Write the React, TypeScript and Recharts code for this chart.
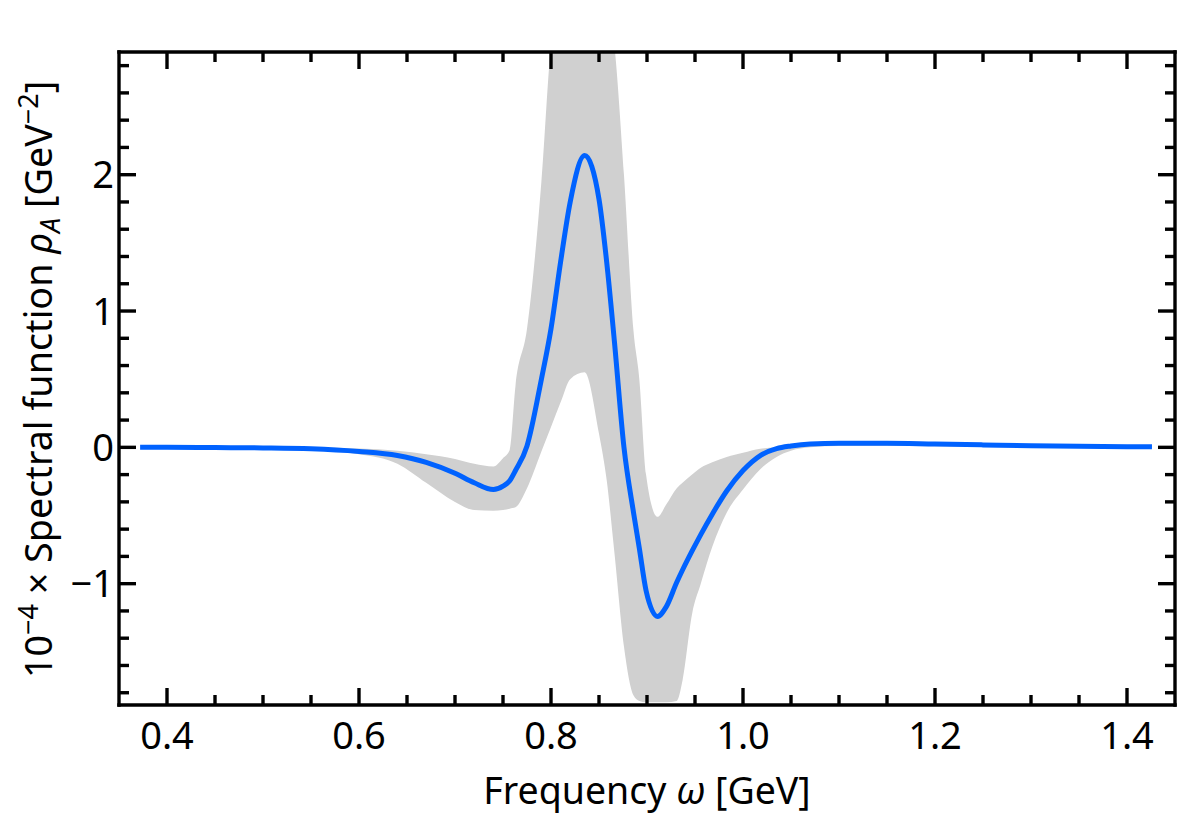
import { ComposedChart, Area, Line, XAxis, YAxis, Label } from "recharts";

// frequency grid (GeV)
const omega = [
  0.372, 0.4, 0.45, 0.5, 0.55, 0.6, 0.64, 0.67, 0.7, 0.72, 0.74, 0.75, 0.757, 0.763, 0.775, 0.79,
  0.8, 0.81, 0.82, 0.835, 0.85, 0.858, 0.866, 0.876, 0.886, 0.892, 0.899, 0.911, 0.92, 0.931, 0.937,
  0.947, 0.956, 0.968, 0.983, 1.0, 1.018, 1.035, 1.05, 1.07, 1.1, 1.15, 1.2, 1.25, 1.3, 1.35, 1.4, 1.426,
];

// mean spectral function (x 1e-4 GeV^-2)
const meanRho = [
  0.0, 0.0, -0.002, -0.004, -0.01, -0.03, -0.06, -0.11, -0.19, -0.26, -0.31, -0.285, -0.245, -0.17, 0.01, 0.5,
  0.87, 1.36, 1.8, 2.14, 1.82, 1.36, 0.78, 0.0, -0.48, -0.74, -1.05, -1.24, -1.17, -0.99, -0.9,
  -0.76, -0.64, -0.49, -0.32, -0.17, -0.06, -0.01, 0.01, 0.025, 0.03, 0.03, 0.024, 0.018, 0.012, 0.008, 0.005, 0.004,
];

// uncertainty band
const bandLow = [
  0.0, -0.001, -0.003, -0.008, -0.02, -0.05, -0.12, -0.26, -0.4, -0.46, -0.465, -0.46, -0.45, -0.44, -0.3, -0.03,
  0.15, 0.33, 0.5, 0.55, 0.1, -0.24, -0.77, -1.46, -1.82, -1.86, -1.87, -1.87, -1.87, -1.86, -1.71,
  -1.22, -1.0, -0.73, -0.48, -0.31, -0.16, -0.07, -0.025, 0.0, 0.01, 0.01, 0.008, 0.005, 0.003, 0.002, 0.001, 0.001,
];
const bandHigh = [
  0.0, 0.001, 0.0, 0.0, -0.002, -0.008, -0.025, -0.05, -0.085, -0.12, -0.14, -0.08, -0.02, 0.45, 0.87, 1.95,
  2.95, 3.3, 3.3, 3.3, 3.3, 3.3, 2.95, 2.0, 0.85, 0.5, -0.2, -0.51, -0.42, -0.3, -0.26,
  -0.2, -0.15, -0.11, -0.07, -0.04, -0.01, 0.0, 0.015, 0.035, 0.045, 0.045, 0.038, 0.03, 0.02, 0.013, 0.008, 0.007,
];

const xTicks = [
  0.4, 0.45, 0.5, 0.55, 0.6, 0.65, 0.7, 0.75, 0.8, 0.85, 0.9, 0.95, 1.0, 1.05, 1.1, 1.15, 1.2, 1.25, 1.3, 1.35, 1.4,
];
const xMajor = [0.4, 0.6, 0.8, 1.0, 1.2, 1.4];
const yTicks = [
  -1.8, -1.6, -1.4, -1.2, -1, -0.8, -0.6, -0.4, -0.2, 0, 0.2, 0.4, 0.6, 0.8, 1, 1.2, 1.4, 1.6, 1.8, 2, 2.2, 2.4, 2.6, 2.8,
];
const yMajor = [-1, 0, 1, 2];

const data = omega.map((w, i) => ({ w, mean: meanRho[i], band: [bandLow[i], bandHigh[i]] }));

const FONT = "'Noto Sans', sans-serif";
const MAJOR = 17;
const MINOR = 10;
const TICK_W = 3.4;
const axisLine = { stroke: "#000", strokeWidth: 3.4, strokeLinecap: "square" as const };

const isMajor = (v: number, list: number[]) => list.some((m) => Math.abs(m - v) < 1e-6);
const fmtY = (v: number) => (v < 0 ? `\u2212${Math.abs(v)}` : `${v}`);

function BottomTick(props: any) {
  const { x, y, payload } = props;
  const major = isMajor(payload.value, xMajor);
  return (
    <g>
      <line x1={x} x2={x} y1={y} y2={y - (major ? MAJOR : MINOR)} stroke="#000" strokeWidth={TICK_W} />
      {major && (
        <text x={x} y={y + 44} textAnchor="middle" fontFamily={FONT} fontSize={38} fill="#000">
          {payload.value.toFixed(1)}
        </text>
      )}
    </g>
  );
}

function TopTick(props: any) {
  const { x, y, payload } = props;
  const major = isMajor(payload.value, xMajor);
  return <line x1={x} x2={x} y1={y} y2={y + (major ? MAJOR : MINOR)} stroke="#000" strokeWidth={TICK_W} />;
}

function LeftTick(props: any) {
  const { x, y, payload } = props;
  const major = isMajor(payload.value, yMajor);
  return (
    <g>
      <line x1={x} x2={x + (major ? MAJOR : MINOR)} y1={y} y2={y} stroke="#000" strokeWidth={TICK_W} />
      {major && (
        <text x={x - 5} y={y} dy="0.36em" textAnchor="end" fontFamily={FONT} fontSize={38} fill="#000">
          {fmtY(payload.value)}
        </text>
      )}
    </g>
  );
}

function RightTick(props: any) {
  const { x, y, payload } = props;
  const major = isMajor(payload.value, yMajor);
  return <line x1={x} x2={x - (major ? MAJOR : MINOR)} y1={y} y2={y} stroke="#000" strokeWidth={TICK_W} />;
}

function XTitle(props: any) {
  const vb = props.viewBox;
  return (
    <text x={vb.x + vb.width / 2} y={804} textAnchor="middle" fontFamily={FONT} fontSize={37.5} fill="#000">
      Frequency <tspan fontStyle="italic">ω</tspan> [GeV]
    </text>
  );
}

function YTitle(props: any) {
  const vb = props.viewBox;
  const cx = 52;
  const cy = vb.y + vb.height / 2 + 1;
  return (
    <text
      x={cx}
      y={cy}
      transform={`rotate(-90 ${cx} ${cy})`}
      textAnchor="middle"
      fontFamily={FONT}
      fontSize={37.7}
      fill="#000"
    >
      10
      <tspan dy={-14} fontSize={27}>
        −4
      </tspan>
      <tspan dy={14}> × Spectral function </tspan>
      <tspan fontStyle="italic">ρ</tspan>
      <tspan dy={8} fontSize={27} fontStyle="italic">
        A
      </tspan>
      <tspan dy={-8}> [GeV</tspan>
      <tspan dy={-14} fontSize={27}>
        −2
      </tspan>
      <tspan dy={14}>]</tspan>
    </text>
  );
}

export default function App() {
  return (
    <div style={{ position: "absolute", left: 0, top: 0, background: "#fff" }}>
      <ComposedChart width={1181} height={820} data={data} margin={{ top: 0, right: 0, bottom: 0, left: 0 }}>
        <XAxis
          xAxisId="bottom"
          dataKey="w"
          type="number"
          domain={[0.35, 1.45]}
          allowDataOverflow
          ticks={xTicks}
          interval={0}
          tickSize={0}
          tickMargin={0}
          height={115}
          axisLine={axisLine}
          tickLine={false}
          tick={BottomTick}
        >
          <Label content={XTitle} />
        </XAxis>
        <XAxis
          xAxisId="top"
          orientation="top"
          dataKey="w"
          type="number"
          domain={[0.35, 1.45]}
          allowDataOverflow
          ticks={xTicks}
          interval={0}
          tickSize={0}
          tickMargin={0}
          height={52}
          axisLine={axisLine}
          tickLine={false}
          tick={TopTick}
        />
        <YAxis
          yAxisId="left"
          type="number"
          domain={[-1.89, 2.9]}
          allowDataOverflow
          ticks={yTicks}
          interval={0}
          tickSize={0}
          tickMargin={0}
          width={119}
          axisLine={axisLine}
          tickLine={false}
          tick={LeftTick}
        >
          <Label content={YTitle} />
        </YAxis>
        <YAxis
          yAxisId="right"
          orientation="right"
          type="number"
          domain={[-1.89, 2.9]}
          allowDataOverflow
          ticks={yTicks}
          interval={0}
          tickSize={0}
          tickMargin={0}
          width={6}
          axisLine={axisLine}
          tickLine={false}
          tick={RightTick}
        />
        <Area
          xAxisId="bottom"
          yAxisId="left"
          dataKey="band"
          type="monotone"
          fill="#d0d0d0"
          fillOpacity={1}
          stroke="none"
          isAnimationActive={false}
        />
        <Line
          xAxisId="bottom"
          yAxisId="left"
          dataKey="mean"
          type="monotone"
          stroke="#0062ff"
          strokeWidth={5}
          dot={false}
          isAnimationActive={false}
        />
        <Line
          xAxisId="top"
          yAxisId="right"
          dataKey="mean"
          stroke="none"
          dot={false}
          activeDot={false}
          isAnimationActive={false}
        />
      </ComposedChart>
    </div>
  );
}
